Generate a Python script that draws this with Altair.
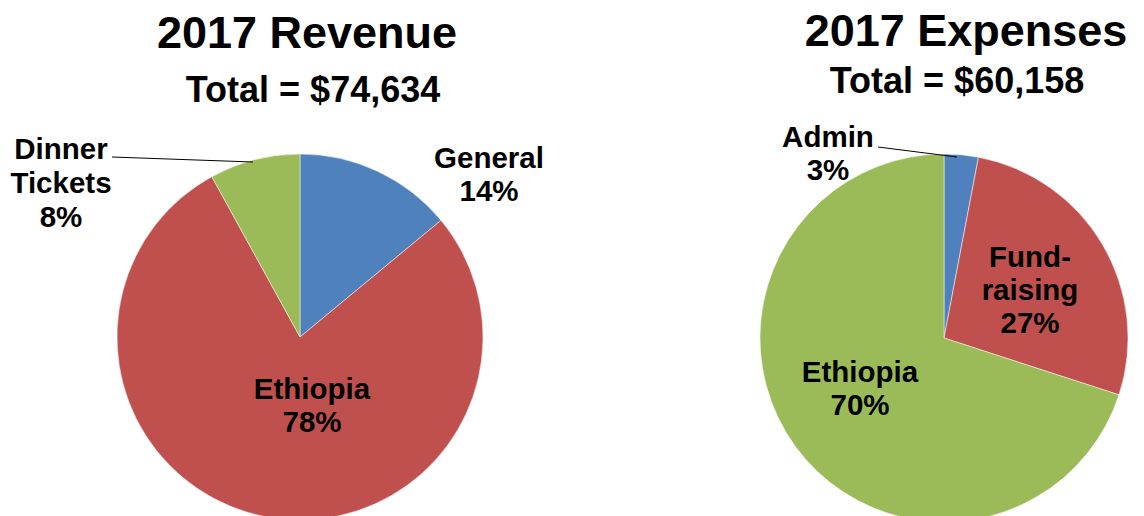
import altair as alt
import pandas as pd

rev_cats = ["General", "Ethiopia", "Dinner Tickets"]
rev_pct = [14, 78, 8]
exp_cats = ["Admin", "Fund-raising", "Ethiopia"]
exp_pct = [3, 27, 70]
slice_colors = ["#4F81BD", "#C0504D", "#9BBB59"]

rev_df = pd.DataFrame({"cat": rev_cats, "pct": rev_pct, "slot": list(range(len(rev_cats)))})
exp_df = pd.DataFrame({"cat": exp_cats, "pct": exp_pct, "slot": list(range(len(exp_cats)))})

FONT = "Liberation Sans"
color_scale = alt.Scale(domain=[0, 1, 2], range=slice_colors)


def pie(df, cx, cy, r):
    return alt.Chart(df).mark_arc(radius=r, stroke="white", strokeWidth=0.5).encode(
        theta=alt.Theta("pct:Q", stack=True),
        order=alt.Order("slot:O"),
        color=alt.Color("slot:N", scale=color_scale, legend=None),
        x=alt.value(cx),
        y=alt.value(cy),
    )


dummy = pd.DataFrame({"a": [0]})


def label(lines, x, y, size=29.5, lh=33):
    txt = lines if len(lines) > 1 else lines[0]
    return alt.Chart(dummy).mark_text(
        font=FONT, fontWeight="bold", fontSize=size, align="center",
        baseline="alphabetic", lineHeight=lh, color="black",
    ).encode(x=alt.value(x), y=alt.value(y), text=alt.value(txt))


def leader(x1, y1, x2, y2):
    return alt.Chart(dummy).mark_rule(color="black", strokeWidth=1).encode(
        x=alt.value(x1), y=alt.value(y1), x2=alt.value(x2), y2=alt.value(y2)
    )


O = 8  # page margin offset

layers = [
    pie(rev_df, 300 - O, 337 - O, 183),
    pie(exp_df, 944 - O, 338 - O, 184),
    label(["2017 Revenue"], 307 - O, 48 - O, size=45),
    label(["Total = $74,634"], 313 - O, 102 - O, size=36),
    label(["2017 Expenses"], 966 - O, 46 - O, size=45),
    label(["Total = $60,158"], 957 - O, 93 - O, size=36),
    label(["Dinner", "Tickets", "8%"], 61 - O, 159 - O, lh=34),
    label(["General", "14%"], 489 - O, 168 - O),
    label(["Ethiopia", "78%"], 312 - O, 399 - O),
    label(["Admin", "3%"], 828 - O, 147 - O),
    label(["Fund-", "raising", "27%"], 1030 - O, 267 - O),
    label(["Ethiopia", "70%"], 860 - O, 382 - O),
    leader(112 - O, 157 - O, 253 - O, 162 - O),
    leader(878 - O, 147 - O, 957 - O, 157 - O),
]

chart = alt.layer(*layers).resolve_scale(theta="independent").properties(
    width=1128, height=508, padding=0,
    autosize=alt.AutoSizeParams(type="none"),
).configure_view(stroke=None)

chart.save("out.html", embed_options={"renderer": "svg", "actions": False})
